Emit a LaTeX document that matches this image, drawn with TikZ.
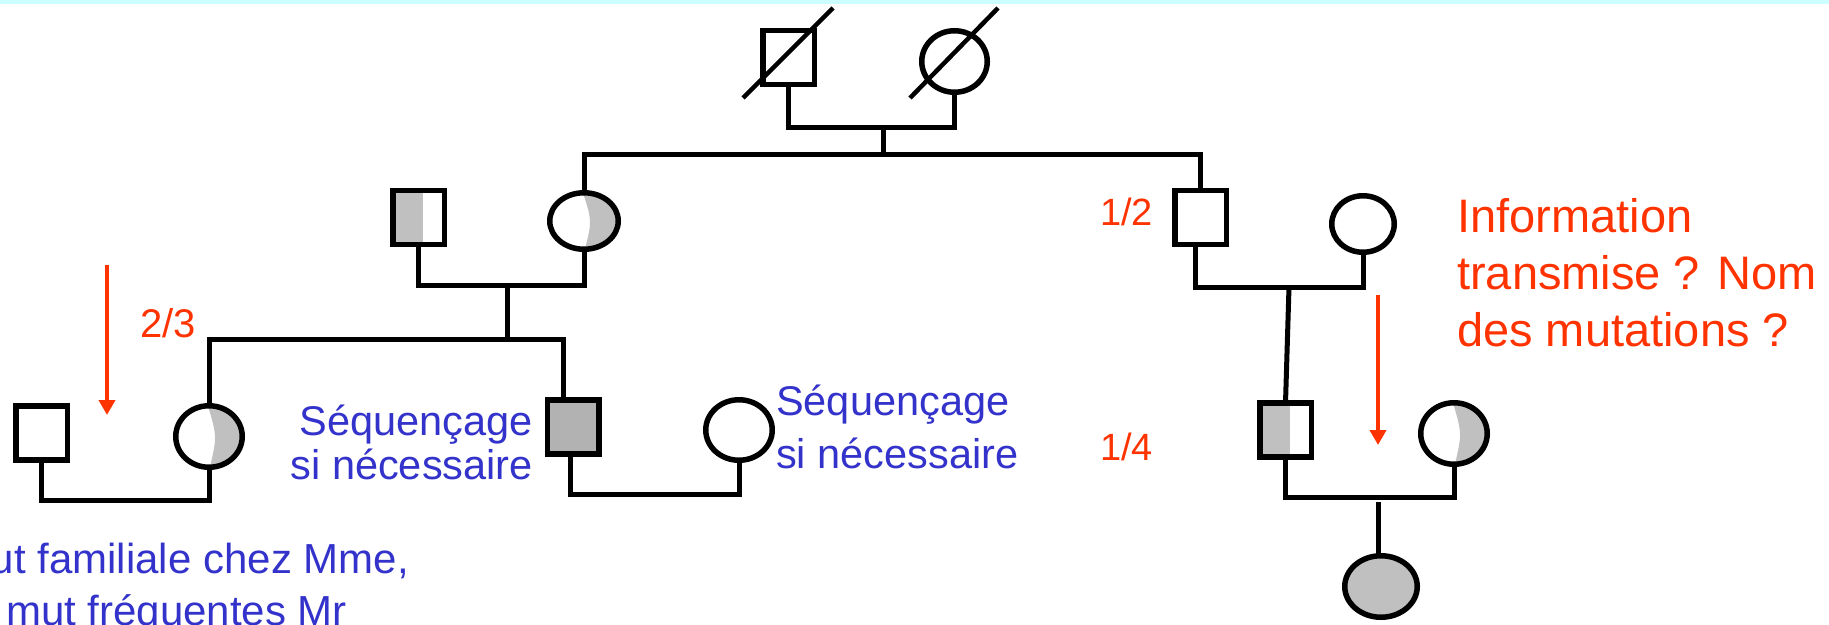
\documentclass[tikz,border=0pt]{standalone}
\usepackage{fontspec}
\setmainfont{Liberation Sans}
\usetikzlibrary{arrows.meta,shapes.geometric}
\definecolor{cyanband}{HTML}{CCFFFF}
\definecolor{lgrey}{HTML}{C0C0C0}
\definecolor{dgrey}{HTML}{B2B2B2}
\definecolor{txtblue}{HTML}{3333CC}
\definecolor{txtred}{HTML}{FF3300}
\begin{document}
\begin{tikzpicture}[x=1pt,y=-1pt,
  sq/.style={draw, line width=5.5pt, fill=white, rectangle, minimum width=51.5pt, minimum height=54pt, inner sep=0pt, outer sep=0pt},
  ov/.style 2 args={draw, line width=5.5pt, fill=white, ellipse, minimum width=#1, minimum height=#2, inner sep=0pt, outer sep=0pt},
  halfsq/.style={path picture={\fill[lgrey] (path picture bounding box.south west) rectangle ([xshift=4pt]path picture bounding box.north);}},
  halfov/.style={path picture={\fill[lgrey] ([xshift=-1pt]path picture bounding box.north) .. controls ([xshift=8pt]path picture bounding box.center) .. ([xshift=1pt]path picture bounding box.south) -- (path picture bounding box.south east) -- (path picture bounding box.north east) -- cycle;}},
  link/.style={draw, line width=5pt},
  slash/.style={draw, line width=4.5pt},
  redarrow/.style={draw=txtred, line width=4pt, -{Triangle[width=16pt,length=15pt]}, fill=txtred},
  bluetxt/.style={text=txtblue, inner sep=0pt, font=\fontsize{41.5}{48}\selectfont},
  redtxt/.style={text=txtred, inner sep=0pt, font=\fontsize{38}{44}\selectfont},
  infotxt/.style={text=txtred, inner sep=0pt, font=\fontsize{47}{56}\selectfont}
]
\fill[white] (0,0) rectangle (1829,624);
\useasboundingbox (0,0) rectangle (1829,624);
\fill[cyanband] (0,0) rectangle (1829,4);

% generation I
\node[sq] (gf) at (788.5,57.5) {};
\node[ov={65.5pt}{61.5pt}] (gm) at (954.5,61.5) {};
\draw[slash] ([shift={(-45.5,40.5)}]gf.center) -- ([shift={(44.5,-49.5)}]gf.center);
\draw[slash] ([shift={(-44.5,36.5)}]gm.center) -- ([shift={(43.5,-53.5)}]gm.center);

% generation II
\node[sq, halfsq] (iil) at (418.5,217.5) {};
\node[ov={68.5pt}{56.5pt}, halfov] (iiw) at (584,221) {};
\node[sq] (iim) at (1200.5,217.5) {};
\node[ov={62.5pt}{56.5pt}] (iiv) at (1363,224) {};

% generation III
\node[sq] (iiil) at (41.5,433) {};
\node[ov={66.5pt}{61.5pt}, halfov] (iiic) at (209,436.5) {};
\node[sq, fill=dgrey] (iiis) at (573,427) {};
\node[ov={66.5pt}{60.5pt}] (iiiw) at (739,430) {};
\node[sq, halfsq] (iiir) at (1285.5,430) {};
\node[ov={66.5pt}{61.5pt}, halfov] (iiirw) at (1454,433.5) {};

% generation IV
\node[ov={72.5pt}{61.5pt}, fill=lgrey] (iv) at (1381,586.5) {};

% junction points
\coordinate (c1) at (883,127);
\coordinate (s1) at (883,154);
\coordinate (c2) at (507,285);
\coordinate (s2) at (507,339);
\coordinate (c3) at (1289,287);
\coordinate (c4) at (120,500);
\coordinate (c5) at (650,494);
\coordinate (c6) at (1378,497);
\coordinate (c7) at (1378,502);

% connectors
\draw[link] (gf.south) |- (c1) -| (gm.south);
\draw[link] (c1) -- (s1);
\draw[link] (iiw.north) |- (s1) -| (iim.north);
\draw[link] (iil.south) |- (c2) -| (iiw.south);
\draw[link] (c2) -- (s2);
\draw[link] (iiic.north) |- (s2) -| ([xshift=-10pt]iiis.north);
\draw[link] (iiil.south) |- (c4) -| (iiic.south);
\draw[link] ([xshift=-3pt]iiis.south) |- (c5) -| (iiiw.south);
\draw[link] ([xshift=-5pt]iim.south) |- (c3) -| (iiv.south);
\draw[link] (c3) -- (iiir.north);
\draw[link] (iiir.south) |- (c6) -| (iiirw.south);
\draw[link] (c7) -- (c7 |- iv.north);

% red arrows
\coordinate (a1s) at (107,265);
\coordinate (a1e) at (107,415);
\coordinate (a2s) at (1378,295);
\coordinate (a2e) at (1378,445);
\draw[redarrow] (a1s) -- (a1e);
\draw[redarrow] (a2s) -- (a2e);

% labels
\node[redtxt, font=\fontsize{40}{46}\selectfont, anchor=base west] (t23) at (140,337) {2/3};
\node[redtxt, anchor=base west] (t12) at (1100,225) {1/2};
\node[redtxt, anchor=base west] (t14) at (1100,460) {1/4};
\node[infotxt, anchor=base west] (inf1) at (1457,232) {Information};
\node[infotxt, anchor=base west] (inf2) at (1457,289) {transmise ? Nom};
\node[infotxt, anchor=base west] (inf3) at (1457,346) {des mutations ?};

\node[bluetxt, anchor=base east] (sql1) at (533,435) {Séquençage};
\node[bluetxt, anchor=base east] (sql2) at (533,479) {si nécessaire};
\node[bluetxt, anchor=base west] (sqr1) at (776,415) {Séquençage};
\node[bluetxt, anchor=base west] (sqr2) at (776,468) {si nécessaire};

\node[bluetxt, font=\fontsize{42}{48}\selectfont, anchor=base east] (bt1) at (409,573) {ut familiale chez Mme,};
\node[bluetxt, font=\fontsize{42}{48}\selectfont, anchor=base west] (bt2) at (6,625) {mut fréquentes Mr};
\end{tikzpicture}
\end{document}
